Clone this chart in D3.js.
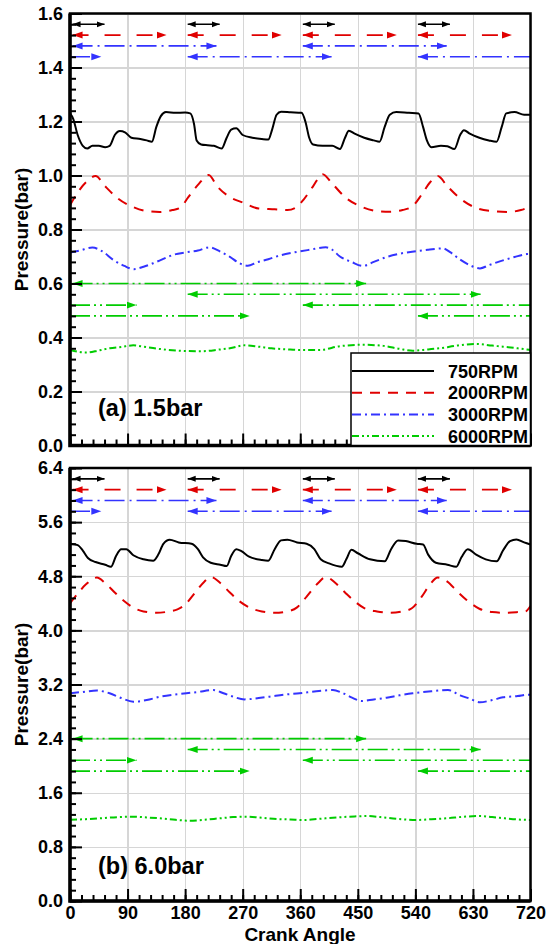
<!DOCTYPE html>
<html>
<head>
  <title>Pressure vs Crank Angle</title>
  <style>
  body {
    margin: 0;
    background: #fff;
    font-family: "Liberation Sans", Arial, Helvetica, sans-serif;
  }
  .grid line { stroke: #d6d6d6; stroke-width: 1.3; shape-rendering: crispedges; }
  .grid .domain, .tk .domain { display: none; }
  .tk line { stroke: #000; stroke-width: 2; }
  .tk text { font-weight: bold; font-size: 18px; fill: #000; font-family: "Liberation Sans", Arial, sans-serif; }
  .frame { fill: none; stroke: #000; stroke-width: 2.5; }
  .curve { fill: none; stroke-width: 2; }
  .arr { fill: none; stroke-width: 1.6; }
  .lbl { font-weight: bold; fill: #000; }
  </style>
  <script src="https://d3js.org/d3.v7.min.js"></script>
</head>
<body>
<script>
// ---- data (crank angle, pressure) ----
var xTicks = [0, 90, 180, 270, 360, 450, 540, 630, 720]
var names = ['750RPM', '2000RPM', '3000RPM', '6000RPM']

var top750 = [[0,1.23],[5,1.21],[12,1.15],[20,1.11],[27,1.10],[35,1.11],[45,1.11],[55,1.105],[62,1.11],[70,1.15],[78,1.165],[86,1.16],[96,1.14],[110,1.135],[120,1.13],[128,1.125],[135,1.18],[142,1.22],[150,1.235],[165,1.232],[180,1.233],[188,1.23],[194,1.19],[198,1.13],[205,1.115],[215,1.112],[225,1.11],[237,1.10],[245,1.14],[252,1.17],[260,1.175],[270,1.15],[285,1.14],[300,1.135],[310,1.133],[316,1.17],[323,1.225],[330,1.236],[345,1.234],[362,1.232],[368,1.20],[374,1.14],[380,1.115],[395,1.11],[410,1.11],[422,1.098],[430,1.14],[436,1.166],[445,1.155],[460,1.14],[475,1.13],[484,1.125],[492,1.18],[500,1.225],[510,1.235],[530,1.232],[545,1.23],[552,1.18],[558,1.13],[565,1.105],[580,1.11],[590,1.108],[601,1.098],[610,1.15],[616,1.168],[625,1.155],[640,1.14],[655,1.13],[667,1.125],[675,1.18],[682,1.23],[695,1.235],[710,1.225],[720,1.225]]
var top2000 = [[0,0.89],[10,0.93],[25,0.975],[40,0.998],[55,0.96],[75,0.915],[100,0.882],[120,0.868],[140,0.865],[160,0.872],[172,0.88],[185,0.92],[200,0.965],[217,1.002],[230,0.96],[250,0.92],[270,0.9],[295,0.878],[320,0.875],[340,0.872],[352,0.88],[365,0.91],[380,0.96],[395,1.005],[410,0.97],[430,0.92],[455,0.885],[480,0.868],[500,0.866],[520,0.872],[535,0.885],[550,0.93],[563,0.975],[575,0.998],[590,0.96],[610,0.915],[635,0.88],[660,0.868],[685,0.865],[705,0.872],[720,0.885]]
var top3000 = [[0,0.715],[15,0.722],[35,0.733],[50,0.72],[68,0.687],[85,0.665],[100,0.653],[115,0.662],[130,0.675],[145,0.69],[160,0.705],[180,0.715],[200,0.722],[218,0.734],[235,0.718],[250,0.699],[265,0.675],[278,0.666],[292,0.678],[310,0.69],[330,0.705],[350,0.715],[375,0.725],[400,0.734],[410,0.725],[422,0.7],[440,0.68],[458,0.665],[475,0.68],[495,0.698],[515,0.71],[535,0.718],[560,0.725],[583,0.73],[595,0.715],[609,0.69],[625,0.668],[641,0.656],[655,0.668],[672,0.682],[695,0.698],[714,0.709],[720,0.71]]
var top6000 = [[0,0.354],[25,0.344],[45,0.352],[62,0.36],[80,0.365],[99,0.371],[115,0.366],[135,0.359],[160,0.353],[182,0.35],[200,0.349],[214,0.35],[232,0.355],[250,0.36],[273,0.371],[295,0.366],[315,0.36],[340,0.356],[360,0.354],[391,0.354],[422,0.368],[458,0.373],[490,0.369],[515,0.358],[536,0.351],[560,0.356],[578,0.36],[605,0.37],[635,0.376],[660,0.37],[677,0.366],[700,0.36],[720,0.354]]

var bot750 = [[0,5.28],[12,5.26],[20,5.18],[28,5.07],[40,5.01],[55,4.97],[64,4.94],[72,5.1],[80,5.2],[88,5.2],[99,5.11],[115,5.05],[130,5.03],[138,5.12],[146,5.28],[156,5.34],[170,5.30],[190,5.28],[200,5.2],[208,5.08],[220,5.0],[235,4.97],[245,4.95],[252,5.1],[260,5.2],[268,5.17],[280,5.09],[300,5.04],[310,5.03],[320,5.2],[330,5.33],[340,5.34],[355,5.3],[370,5.28],[382,5.2],[392,5.05],[405,4.99],[425,4.94],[432,5.05],[440,5.19],[450,5.14],[469,5.05],[492,5.02],[502,5.2],[513,5.33],[525,5.32],[542,5.28],[552,5.27],[560,5.12],[572,5.0],[590,4.97],[604,4.94],[612,5.08],[622,5.2],[635,5.12],[650,5.05],[667,5.02],[677,5.18],[688,5.32],[698,5.345],[710,5.3],[720,5.27]]
var bot2000 = [[0,4.40],[10,4.52],[25,4.68],[42,4.78],[55,4.7],[70,4.56],[85,4.43],[100,4.33],[115,4.28],[135,4.26],[155,4.28],[168,4.31],[180,4.38],[195,4.55],[210,4.72],[220,4.79],[235,4.7],[250,4.56],[265,4.43],[280,4.34],[300,4.28],[320,4.26],[340,4.28],[355,4.34],[370,4.5],[388,4.7],[400,4.79],[415,4.7],[430,4.56],[445,4.43],[460,4.33],[480,4.28],[500,4.26],[520,4.28],[535,4.33],[550,4.5],[563,4.68],[575,4.78],[590,4.72],[605,4.58],[620,4.45],[640,4.32],[660,4.27],[680,4.26],[700,4.27],[712,4.28],[720,4.36]]
var bot3000 = [[0,3.07],[20,3.09],[42,3.11],[62,3.07],[80,3.0],[99,2.946],[120,2.97],[141,3.02],[162,3.05],[182,3.07],[200,3.09],[224,3.118],[240,3.07],[255,3.02],[273,2.98],[295,3.0],[312,3.02],[335,3.05],[359,3.07],[385,3.1],[411,3.118],[425,3.08],[440,3.01],[456,2.956],[475,2.98],[495,3.005],[515,3.04],[536,3.07],[565,3.1],[591,3.118],[610,3.04],[625,2.99],[641,2.937],[660,2.97],[677,3.01],[700,3.03],[716,3.05],[720,3.05]]
var bot6000 = [[0,1.2],[25,1.21],[47,1.222],[75,1.24],[99,1.246],[120,1.235],[140,1.222],[165,1.2],[187,1.187],[210,1.2],[234,1.222],[255,1.24],[271,1.246],[295,1.235],[323,1.212],[345,1.205],[365,1.197],[390,1.215],[417,1.235],[445,1.25],[464,1.256],[485,1.24],[510,1.215],[542,1.197],[565,1.21],[589,1.222],[615,1.245],[641,1.256],[660,1.24],[680,1.222],[700,1.205],[720,1.197]]

// valve timing arrows: [start, end] in crank angle (end > 720 wraps round)
var arrBlack = [[4,54],[184,234],[364,414],[544,594]]
var arrRed = [[4,151],[184,331],[364,511],[544,691]]
var arrBlue1 = [[4,229],[364,589]]
var arrBlue2 = [[184,409],[544,769]]
var arrGreen1 = [[4,463]]
var arrGreen2 = [[184,642]]
var arrGreen3 = [[364,824]]
var arrGreen4 = [[544,1001]]
var topRows = [1.56, 1.52, 1.48, 1.44, 0.60, 0.56, 0.52, 0.48]
var botRows = [6.24, 6.08, 5.92, 5.76, 2.40, 2.24, 2.08, 1.92]

var colors = ['#000000', '#e00000', '#3333ff', '#00cc00']
var widths = [2.4, 2, 2, 2]
var dashes = [null, '10,8', '9,4,2,4', '7,3,2,3,2,3']
var arrDashes = [null, '16,16', '20,5,2,5', '20,4,2,4,2,4']

var W = 553, H = 944

var svg = d3.select('body').append('svg')
  .attr('width', W)
  .attr('height', H)

var defs = svg.append('defs')
colors.forEach(function(c, i) {
  var big = i > 0
  defs.append('marker')
    .attr('id', 'ah' + i)
    .attr('markerUnits', 'userSpaceOnUse')
    .attr('markerWidth', 12).attr('markerHeight', 10)
    .attr('refX', big ? 10 : 8).attr('refY', 5)
    .attr('orient', 'auto-start-reverse')
  .append('path')
    .attr('d', big ? 'M0,1.5L10,5L0,8.5Z' : 'M0,2L8,5L0,8Z')
    .attr('fill', c)
})

var x = d3.scaleLinear().domain([0, 720]).range([70, 530.5])

var panels = [
  { id: 'a', top: 13.5, bottom: 445.5, max: 1.6, step: 0.2, rows: topRows,
    data: [top750, top2000, top3000, top6000], label: '(a) 1.5bar', labelY: 416, xLabels: false },
  { id: 'b', top: 468, bottom: 901, max: 6.4, step: 0.8, rows: botRows,
    data: [bot750, bot2000, bot3000, bot6000], label: '(b) 6.0bar', labelY: 874, xLabels: true }
]

var arrowSets = [
  { spans: arrBlack, s: 0 }, { spans: arrRed, s: 1 }, { spans: arrBlue1, s: 2 }, { spans: arrBlue2, s: 2 },
  { spans: arrGreen1, s: 3 }, { spans: arrGreen2, s: 3 }, { spans: arrGreen3, s: 3 }, { spans: arrGreen4, s: 3 }
]

panels.forEach(function(p) {
  var y = d3.scaleLinear().domain([0, p.max]).range([p.bottom, p.top])
  var nMaj = Math.round(p.max / p.step)
  var majors = d3.range(nMaj + 1).map(function(i) { return i * p.step })
  var minors = d3.range(nMaj * 5 + 1).map(function(i) { return i * p.step / 5 })
  var xMinor = d3.range(0, 721, 18)
  var g = svg.append('g').attr('class', 'panel ' + p.id)

  // grid
  g.append('g')
    .attr('class', 'grid')
    .attr('transform', 'translate(0,' + p.bottom + ')')
    .call(d3.axisBottom(x).tickValues(xTicks).tickSize(-(p.bottom - p.top)).tickFormat(''))
  g.append('g')
    .attr('class', 'grid')
    .attr('transform', 'translate(70,0)')
    .call(d3.axisLeft(y).tickValues(majors).tickSize(-(530.5 - 70)).tickFormat(''))

  // curves
  var clipId = 'clip' + p.id
  defs.append('clipPath').attr('id', clipId)
    .append('rect')
    .attr('x', 70).attr('y', p.top)
    .attr('width', 460.5).attr('height', p.bottom - p.top)

  var line = d3.line()
    .x(function(d) { return x(d[0]) })
    .y(function(d) { return y(d[1]) })
    .curve(d3.curveMonotoneX)

  var cg = g.append('g').attr('clip-path', 'url(#' + clipId + ')')
  p.data.forEach(function(s, i) {
    cg.append('path')
      .attr('class', 'curve')
      .attr('d', line(s))
      .attr('stroke', colors[i])
      .attr('stroke-width', widths[i])
      .attr('stroke-dasharray', dashes[i])
  })

  // arrows
  arrowSets.forEach(function(a, r) {
    var yy = y(p.rows[r])
    a.spans.forEach(function(sp) {
      var segs = sp[1] > 720
        ? [[sp[0], 720, true, false], [0, sp[1] - 720, false, true]]
        : [[sp[0], sp[1], true, true]]
      segs.forEach(function(sg) {
        cg.append('line')
          .attr('class', 'arr')
          .attr('x1', x(sg[0])).attr('x2', x(sg[1]))
          .attr('y1', yy).attr('y2', yy)
          .attr('stroke', colors[a.s])
          .attr('stroke-dasharray', arrDashes[a.s])
          .attr('marker-start', sg[2] ? 'url(#ah' + a.s + ')' : null)
          .attr('marker-end', sg[3] ? 'url(#ah' + a.s + ')' : null)
      })
    })
  })

  // ticks
  g.append('g')
    .attr('class', 'tk')
    .attr('transform', 'translate(70,0)')
    .call(d3.axisLeft(y).tickValues(minors).tickSize(-6).tickFormat(''))
  g.append('g')
    .attr('class', 'tk')
    .attr('transform', 'translate(70,0)')
    .call(d3.axisLeft(y).tickValues(majors).tickSize(-12).tickPadding(7).tickFormat(d3.format('.1f')))
  g.append('g')
    .attr('class', 'tk')
    .attr('transform', 'translate(0,' + p.bottom + ')')
    .call(d3.axisBottom(x).tickValues(xMinor).tickSize(-6).tickFormat(''))
  g.append('g')
    .attr('class', 'tk')
    .attr('transform', 'translate(0,' + p.bottom + ')')
    .call(d3.axisBottom(x).tickValues(xTicks).tickSize(-12).tickPadding(5)
      .tickFormat(p.xLabels ? d3.format('d') : ''))

  // frame
  g.append('rect')
    .attr('class', 'frame')
    .attr('x', 70).attr('y', p.top)
    .attr('width', 460.5).attr('height', p.bottom - p.top)
  g.append('path')
    .attr('d', 'M70,' + p.top + 'V' + p.bottom + 'H530.5')
    .attr('fill', 'none').attr('stroke', '#000').attr('stroke-width', 3.5)

  g.append('text')
    .attr('class', 'lbl')
    .attr('x', 98).attr('y', p.labelY)
    .style('font-size', '23.5px')
    .text(p.label)

  g.append('text')
    .attr('class', 'lbl')
    .attr('transform', 'translate(28,' + ((p.top + p.bottom) / 2) + ') rotate(-90)')
    .attr('text-anchor', 'middle')
    .style('font-size', '19px')
    .text('Pressure(bar)')
})

// legend in the top panel
var lg = svg.append('g').attr('class', 'legend')
lg.append('rect')
  .attr('x', 351).attr('y', 353)
  .attr('width', 179.5).attr('height', 92.5)
  .attr('fill', '#fff').attr('stroke', '#000').attr('stroke-width', 1.5)
names.forEach(function(n, i) {
  var yy = 371 + i * 21.7
  lg.append('line')
    .attr('x1', 352).attr('x2', 434)
    .attr('y1', yy).attr('y2', yy)
    .attr('stroke', colors[i]).attr('stroke-width', 2)
    .attr('stroke-dasharray', dashes[i])
  lg.append('text')
    .attr('class', 'lbl')
    .attr('x', 448).attr('y', yy + 6.5)
    .style('font-size', '18px')
    .text(n)
})

svg.append('text')
  .attr('class', 'lbl')
  .attr('x', 300).attr('y', 941)
  .attr('text-anchor', 'middle')
  .style('font-size', '19px')
  .text('Crank Angle')
</script>
</body>
</html>
